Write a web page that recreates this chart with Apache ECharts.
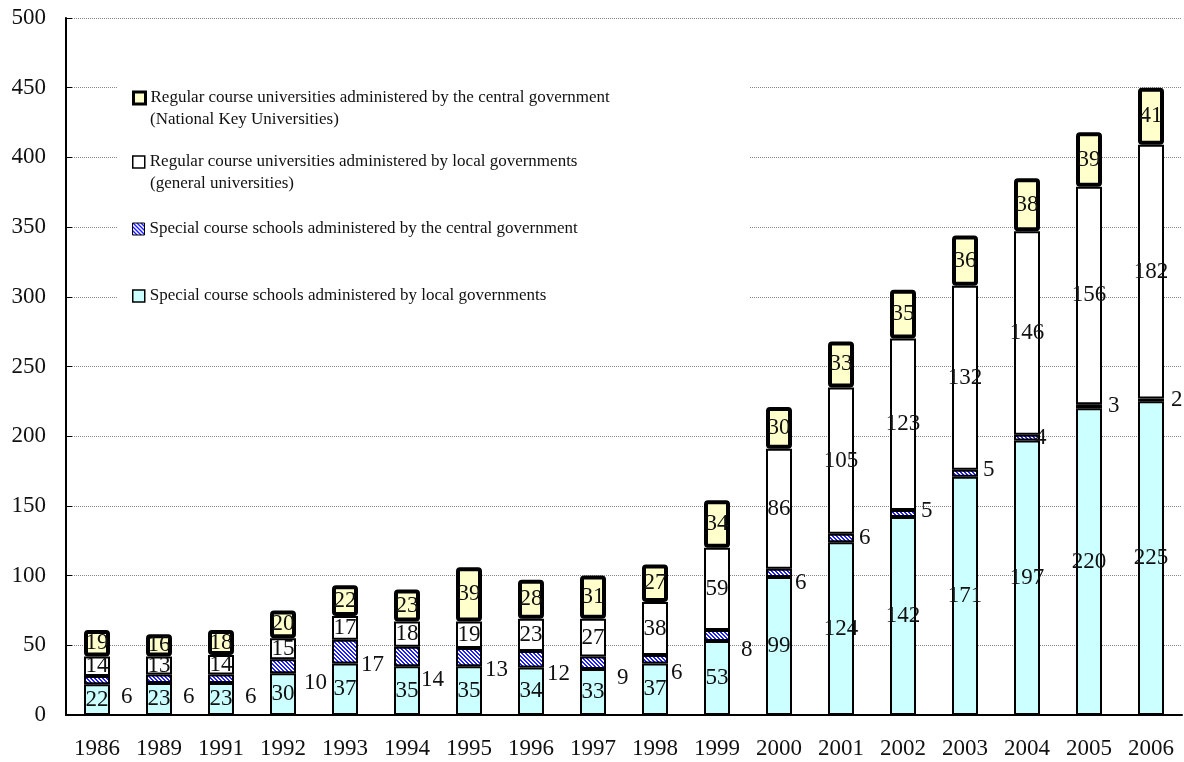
<!DOCTYPE html>
<html>
<head>
<meta charset="utf-8">
<script src="https://cdn.jsdelivr.net/npm/echarts@6/dist/echarts.min.js"></script>
<style>
html, body { margin: 0; padding: 0; background: #fff; }
#chart { width: 1184px; height: 762px; }
</style>
</head>
<body>
<div id="chart"></div>
<script>
const years = ['1986', '1989', '1991', '1992', '1993', '1994', '1995', '1996', '1997', '1998',
  '1999', '2000', '2001', '2002', '2003', '2004', '2005', '2006'];
// bottom to top of each stack
const localSpecial = [22, 23, 23, 30, 37, 35, 35, 34, 33, 37, 53, 99, 124, 142, 171, 197, 220, 225];
const centralSpecial = [6, 6, 6, 10, 17, 14, 13, 12, 9, 6, 8, 6, 6, 5, 5, 4, 3, 2];
const localRegular = [14, 13, 14, 15, 17, 18, 19, 23, 27, 38, 59, 86, 105, 123, 132, 146, 156, 182];
const centralRegular = [19, 16, 18, 20, 22, 23, 39, 28, 31, 27, 34, 30, 33, 35, 36, 38, 39, 41];

const names = [
  'Regular course universities administered by the central government',
  'Regular course universities administered by local governments',
  'Special course schools administered by the central government',
  'Special course schools administered by local governments'
];

// where the small labels of the hatched segment sit (px, relative to 'right')
const specialLabelDx = [8, 8, 8, 5, 0, -2, 0, 0, 8, 0, 8, 0, 2, 2, 2, -8, 3, 4];
const specialLabelDy = [17, 18, 18, 17, 13, 24, 13, 15, 15, 14, 14, 10, 0, -3, -3, 0, 0, 0];

const FONT = '"Liberation Serif", "DejaVu Serif", serif';

// blue diagonal hatching
const hatch = document.createElement('canvas');
hatch.width = 4;
hatch.height = 4;
(function () {
  const c = hatch.getContext('2d');
  c.fillStyle = '#ffffff';
  c.fillRect(0, 0, 4, 4);
  c.fillStyle = '#1f1fff';
  for (let i = 0; i < 4; i++) {
    c.fillRect(i, i, 1, 1);
    c.fillRect((i + 1) % 4, i, 1, 1);
  }
})();

const labelStyle = {
  show: true,
  position: 'inside',
  color: '#111',
  fontFamily: FONT,
  fontSize: 23
};

const chart = echarts.init(document.getElementById('chart'));

const legendTops = [86, 150, 217, 284];
const legendBorders = [3, 1.5, 1, 1.5];

chart.setOption({
  animation: false,
  grid: { left: 66, right: 2, top: 18, bottom: 47 },
  xAxis: {
    type: 'category',
    data: years,
    axisLine: { lineStyle: { color: '#000', width: 2 } },
    axisTick: { inside: true, length: 7, lineStyle: { color: '#000', width: 2 } },
    axisLabel: { color: '#111', fontFamily: FONT, fontSize: 23, margin: 22 }
  },
  yAxis: {
    type: 'value',
    min: 0,
    max: 500,
    interval: 50,
    axisLine: { show: true, lineStyle: { color: '#000', width: 2 } },
    axisTick: { show: true, inside: true, length: 6, lineStyle: { color: '#000', width: 1 } },
    axisLabel: { color: '#111', fontFamily: FONT, fontSize: 23, margin: 20 },
    splitLine: { lineStyle: { color: '#888', type: 'dotted', width: 1 } }
  },
  legend: [0, 1, 2, 3].map(function (k) {
    return {
      data: [{ name: names[k], icon: 'rect' }],
      left: 132,
      top: legendTops[k],
      padding: 0,
      itemWidth: 12,
      itemHeight: 12,
      itemGap: 0,
      itemStyle: { borderColor: '#000', borderWidth: legendBorders[k] },
      textStyle: { color: '#111', fontFamily: FONT, fontSize: 17, lineHeight: 24 }
    };
  }),
  graphic: [
    {
      type: 'rect',
      z: 1,
      shape: { x: 117, y: 80, width: 633, height: 230 },
      style: { fill: '#fff' }
    },
    {
      type: 'text',
      z: 5,
      left: 150,
      top: 111,
      style: { text: '(National Key Universities)', fill: '#111', font: '17px ' + FONT }
    },
    {
      type: 'text',
      z: 5,
      left: 150,
      top: 175,
      style: { text: '(general universities)', fill: '#111', font: '17px ' + FONT }
    }
  ],
  series: [
    {
      name: names[3],
      type: 'bar',
      stack: 'all',
      barWidth: 26,
      data: localSpecial,
      itemStyle: { color: '#ccffff', borderColor: '#000', borderWidth: 2 },
      label: labelStyle
    },
    {
      name: names[2],
      type: 'bar',
      stack: 'all',
      data: centralSpecial.map(function (v, i) {
        return { value: v, label: { offset: [specialLabelDx[i], specialLabelDy[i]] } };
      }),
      itemStyle: { color: { image: hatch, repeat: 'repeat' }, borderColor: '#000', borderWidth: 2 },
      label: Object.assign({}, labelStyle, { position: 'right', distance: 3 })
    },
    {
      name: names[1],
      type: 'bar',
      stack: 'all',
      data: localRegular,
      itemStyle: { color: '#ffffff', borderColor: '#000', borderWidth: 2 },
      label: labelStyle
    },
    {
      name: names[0],
      type: 'bar',
      stack: 'all',
      data: centralRegular,
      itemStyle: { color: '#ffffcc', borderColor: '#000', borderWidth: 4, borderRadius: 2 },
      label: labelStyle
    }
  ]
});
</script>
</body>
</html>
